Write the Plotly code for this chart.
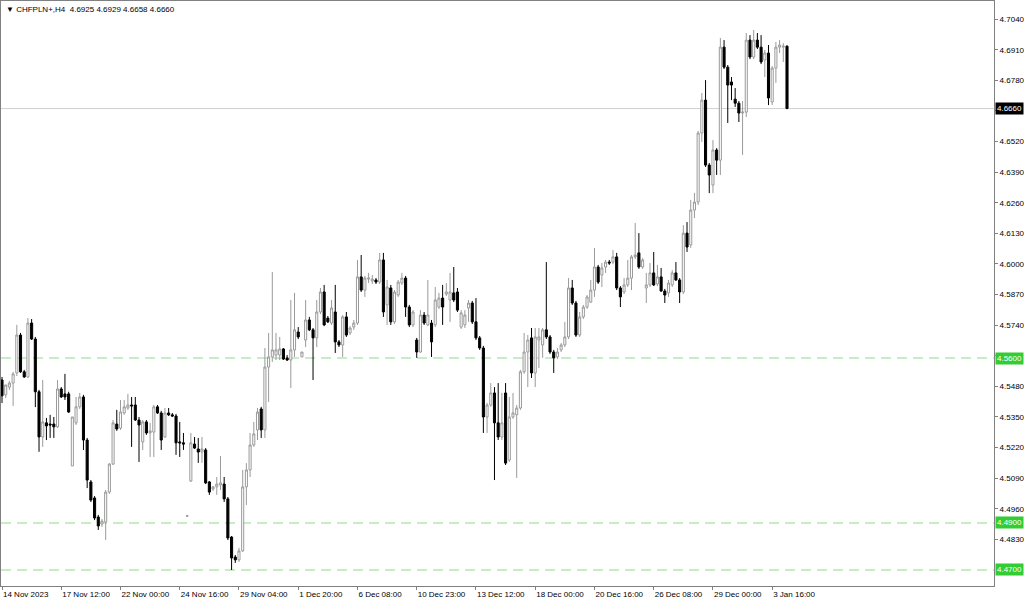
import plotly.graph_objects as go

# ---- data (CHFPLN+, H4) ----
open_ = [4.5507,4.5444,4.5477,4.5494,4.5537,4.5698,4.5542,4.5520,4.5749,4.5681,
         4.5457,4.5265,4.5325,4.5320,4.5320,4.5308,4.5469,4.5448,4.5448,4.5142,
         4.5325,4.5393,4.5435,4.5252,4.5074,4.5006,4.4925,4.4895,4.4904,4.5031,
         4.5150,4.5320,4.5303,4.5367,4.5388,4.5401,4.5401,4.5337,4.5244,4.5329,
         4.5282,4.5286,4.5393,4.5367,4.5265,4.5367,4.5359,4.5354,4.5244,4.5240,
         4.4929,4.5078,4.5235,4.5214,4.5201,4.5210,4.5074,4.5044,4.5053,4.5061,
         4.5065,4.5002,4.4840,4.4755,4.4743,4.4781,4.5053,4.5125,4.5231,4.5295,
         4.5384,4.5295,4.5562,4.5605,4.5613,4.5613,4.5639,4.5601,4.5592,4.5635,
         4.5711,4.5605,4.5677,4.5762,4.5720,4.5686,4.5796,4.5881,4.5770,4.5749,
         4.5796,4.5669,4.5656,4.5775,4.5707,4.5732,4.5749,4.5945,4.5889,4.5936,
         4.5928,4.5932,4.5923,4.6017,4.5826,4.5898,4.5754,4.5868,4.5919,4.5940,
         4.5817,4.5741,4.5677,4.5626,4.5783,4.5741,4.5749,4.5741,4.5817,4.5855,
         4.5872,4.5847,4.5877,4.5881,4.5732,4.5741,4.5813,4.5834,4.5754,4.5686,
         4.5643,4.5350,4.5401,4.5452,4.5325,4.5265,4.5452,4.5167,4.5350,4.5359,
         4.5388,4.5542,4.5626,4.5686,4.5537,4.5677,4.5656,4.5720,4.5690,4.5626,
         4.5605,4.5635,4.5656,4.5690,4.5898,4.5834,4.5698,4.5775,4.5817,4.5838,
         4.5889,4.5987,4.5953,4.5987,4.6008,4.6008,4.6030,4.5898,4.5881,4.5911,
         4.5940,4.6030,4.6047,4.5987,4.5898,4.5911,4.5962,4.5915,4.5945,4.5885,
         4.5877,4.5911,4.5962,4.5932,4.5881,4.6131,4.6081,4.6229,4.6263,4.6556,
         4.6696,4.6420,4.6335,4.6484,4.6441,4.6921,4.6836,4.6773,4.6700,4.6683,
         4.6641,4.6645,4.6951,4.6879,4.6951,4.6921,4.6866,4.6896,4.6688,4.6832,
         4.6921,4.6921,4.6925]
high = [4.5520,4.5486,4.5503,4.5542,4.5741,4.5707,4.5550,4.5770,4.5766,4.5690,
        4.5465,4.5507,4.5346,4.5359,4.5350,4.5507,4.5477,4.5533,4.5457,4.5350,
        4.5435,4.5452,4.5444,4.5261,4.5082,4.5014,4.4934,4.4917,4.5040,4.5154,
        4.5337,4.5380,4.5422,4.5422,4.5448,4.5435,4.5435,4.5350,4.5337,4.5337,
        4.5325,4.5401,4.5401,4.5376,4.5388,4.5388,4.5367,4.5363,4.5329,4.5282,
        4.4934,4.5282,4.5265,4.5261,4.5265,4.5218,4.5078,4.5057,4.5095,4.5184,
        4.5095,4.5010,4.4844,4.4764,4.4794,4.5125,4.5154,4.5282,4.5329,4.5388,
        4.5393,4.5643,4.5707,4.5966,4.5707,4.5690,4.5643,4.5613,4.5847,4.5877,
        4.5732,4.5626,4.5847,4.5775,4.5728,4.5847,4.5898,4.5911,4.5779,4.5847,
        4.5911,4.5677,4.5783,4.5796,4.5736,4.5762,4.6017,4.6038,4.5949,4.5962,
        4.5953,4.5940,4.6047,4.6047,4.5932,4.5911,4.5889,4.5932,4.5962,4.5949,
        4.5826,4.5804,4.5686,4.5804,4.5796,4.5932,4.5762,4.5902,4.5877,4.5911,
        4.5919,4.5962,4.5987,4.5898,4.5804,4.5804,4.5847,4.5843,4.5855,4.5694,
        4.5652,4.5410,4.5494,4.5477,4.5494,4.5452,4.5494,4.5435,4.5452,4.5401,
        4.5550,4.5707,4.5698,4.5728,4.5728,4.5728,4.5728,4.6008,4.5698,4.5635,
        4.5643,4.5664,4.5754,4.5940,4.5932,4.5843,4.5796,4.5826,4.5868,4.5932,
        4.6068,4.5996,4.6004,4.6017,4.6017,4.6059,4.6047,4.5906,4.5940,4.6017,
        4.6038,4.6174,4.6131,4.6025,4.5962,4.6004,4.6051,4.5996,4.5983,4.5894,
        4.5932,4.5974,4.6008,4.5940,4.6165,4.6178,4.6272,4.6302,4.6565,4.6726,
        4.6781,4.6429,4.6526,4.6492,4.6960,4.6951,4.6845,4.6794,4.6747,4.6692,
        4.6692,4.6981,4.6972,4.6994,4.6981,4.6972,4.6909,4.6930,4.6841,4.6943,
        4.6951,4.6938,4.6929]
low = [4.5409,4.5431,4.5465,4.5397,4.5524,4.5537,4.5516,4.5516,4.5677,4.5392,
       4.5202,4.5223,4.5252,4.5261,4.5261,4.5303,4.5431,4.5422,4.5367,4.5142,
       4.5316,4.5384,4.5210,4.5048,4.4989,4.4912,4.4870,4.4883,4.4827,4.5023,
       4.5146,4.5291,4.5295,4.5359,4.5380,4.5223,4.5333,4.5159,4.5210,4.5274,
       4.5180,4.5180,4.5363,4.5210,4.5261,4.5354,4.5350,4.5189,4.5180,4.5210,
       4.4925,4.5074,4.5214,4.5155,4.5155,4.5065,4.5019,4.5036,4.5019,4.5040,
       4.4989,4.4827,4.4700,4.4730,4.4734,4.4777,4.4976,4.5095,4.5223,4.5252,
       4.5261,4.5261,4.5414,4.5584,4.5592,4.5592,4.5592,4.5588,4.5473,4.5605,
       4.5681,4.5605,4.5647,4.5715,4.5507,4.5647,4.5787,4.5736,4.5749,4.5741,
       4.5622,4.5647,4.5605,4.5690,4.5698,4.5720,4.5741,4.5881,4.5860,4.5919,
       4.5915,4.5915,4.5915,4.5775,4.5741,4.5741,4.5745,4.5860,4.5911,4.5775,
       4.5732,4.5732,4.5601,4.5622,4.5741,4.5736,4.5605,4.5732,4.5809,4.5741,
       4.5864,4.5754,4.5838,4.5796,4.5724,4.5728,4.5754,4.5745,4.5677,4.5635,
       4.5282,4.5282,4.5393,4.5082,4.5252,4.5252,4.5146,4.5159,4.5342,4.5091,
       4.5380,4.5533,4.5477,4.5516,4.5477,4.5558,4.5601,4.5681,4.5618,4.5537,
       4.5596,4.5626,4.5647,4.5681,4.5826,4.5690,4.5690,4.5766,4.5809,4.5834,
       4.5860,4.5915,4.5902,4.5962,4.5996,4.5999,4.5889,4.5817,4.5872,4.5902,
       4.5889,4.6021,4.5979,4.5979,4.5834,4.5902,4.5906,4.5906,4.5881,4.5834,
       4.5860,4.5902,4.5928,4.5834,4.5872,4.6051,4.6068,4.6195,4.6250,4.6518,
       4.6412,4.6301,4.6301,4.6378,4.6378,4.6828,4.6599,4.6696,4.6667,4.6603,
       4.6463,4.6624,4.6870,4.6870,4.6913,4.6849,4.6794,4.6675,4.6675,4.6769,
       4.6896,4.6858,4.6658]
close = [4.5440,4.5486,4.5494,4.5533,4.5698,4.5542,4.5520,4.5749,4.5681,4.5457,
         4.5265,4.5329,4.5312,4.5316,4.5308,4.5469,4.5435,4.5435,4.5371,4.5350,
         4.5393,4.5435,4.5252,4.5082,4.4997,4.4921,4.4887,4.4908,4.5031,4.5150,
         4.5325,4.5299,4.5371,4.5393,4.5401,4.5397,4.5337,4.5316,4.5329,4.5282,
         4.5291,4.5393,4.5367,4.5252,4.5367,4.5359,4.5354,4.5240,4.5240,4.5235,
         4.4930,4.5240,4.5218,4.5201,4.5214,4.5070,4.5031,4.5053,4.5065,4.5070,
         4.5002,4.4836,4.4751,4.4743,4.4781,4.5053,4.5125,4.5231,4.5278,4.5371,
         4.5295,4.5562,4.5605,4.5635,4.5635,4.5639,4.5596,4.5592,4.5635,4.5720,
         4.5690,4.5626,4.5762,4.5720,4.5686,4.5796,4.5881,4.5741,4.5754,4.5813,
         4.5669,4.5656,4.5775,4.5698,4.5728,4.5749,4.5945,4.5889,4.5940,4.5940,
         4.5936,4.5923,4.6017,4.5796,4.5902,4.5754,4.5881,4.5923,4.5940,4.5817,
         4.5741,4.5796,4.5626,4.5783,4.5749,4.5783,4.5669,4.5847,4.5855,4.5817,
         4.5881,4.5881,4.5847,4.5804,4.5792,4.5783,4.5834,4.5754,4.5686,4.5643,
         4.5350,4.5401,4.5452,4.5325,4.5265,4.5325,4.5154,4.5350,4.5367,4.5388,
         4.5542,4.5626,4.5677,4.5537,4.5690,4.5690,4.5720,4.5690,4.5626,4.5601,
         4.5626,4.5656,4.5690,4.5898,4.5834,4.5698,4.5775,4.5817,4.5860,4.5889,
         4.5987,4.5923,4.5983,4.6008,4.6004,4.6030,4.5898,4.5860,4.5911,4.5940,
         4.6030,4.6038,4.5987,4.6017,4.5911,4.5962,4.5911,4.5945,4.5885,4.5868,
         4.5919,4.5962,4.5932,4.5881,4.6131,4.6072,4.6229,4.6263,4.6556,4.6696,
         4.6420,4.6378,4.6484,4.6441,4.6921,4.6836,4.6760,4.6760,4.6683,4.6641,
         4.6645,4.6951,4.6879,4.6951,4.6921,4.6858,4.6896,4.6705,4.6832,4.6921,
         4.6930,4.6925,4.6660]

time_labels = ["14 Nov 2023", "17 Nov 12:00", "22 Nov 00:00", "24 Nov 16:00",
               "29 Nov 04:00", "1 Dec 20:00", "6 Dec 08:00", "10 Dec 23:00",
               "13 Dec 12:00", "18 Dec 00:00", "20 Dec 16:00", "26 Dec 08:00",
               "29 Dec 00:00", "3 Jan 16:00"]
label_step = 16
price_ticks = [4.7040, 4.6910, 4.6780, 4.6650, 4.6520, 4.6390, 4.6260, 4.6130,
               4.6000, 4.5870, 4.5740, 4.5610, 4.5480, 4.5350, 4.5220, 4.5090,
               4.4960, 4.4830]
levels = [4.5600, 4.4900, 4.4700]
last_price = 4.6660
title_text = "▼ CHFPLN+,H4  4.6925 4.6929 4.6658 4.6660"

n = len(close)
idx = list(range(n))

FONT = "Liberation Sans"

# tick labels hidden behind the price/level boxes are left blank (tick mark kept)
def tick_label(t):
    covered = [last_price] + levels
    if any(abs(t - c) < 0.0015 for c in covered):
        return ""
    return f"{t:.4f}"

fig = go.Figure()
fig.add_trace(go.Candlestick(
    x=idx, open=open_, high=high, low=low, close=close,
    increasing=dict(line=dict(color="#9a9a9a", width=1), fillcolor="#ffffff"),
    decreasing=dict(line=dict(color="#000000", width=1), fillcolor="#000000"),
    whiskerwidth=0, showlegend=False, hoverinfo="skip",
))

shapes = []
for lv in levels:
    shapes.append(dict(type="line", xref="paper", x0=0, x1=1, yref="y", y0=lv, y1=lv,
                       line=dict(color="#b4e8b4", width=1.5, dash="10px,6px"), layer="below"))
shapes.append(dict(type="line", xref="paper", x0=0, x1=1, yref="y", y0=last_price, y1=last_price,
                   line=dict(color="#d0d0d0", width=1), layer="below"))

annotations = []
for lv in levels:
    annotations.append(dict(x=1, xref="paper", xanchor="left", xshift=1, y=lv, yref="y",
                            text=f"{lv:.4f}", showarrow=False, bgcolor="#33cc33",
                            font=dict(color="white", size=8, family=FONT), borderpad=1))
annotations.append(dict(x=1, xref="paper", xanchor="left", xshift=1, y=last_price, yref="y",
                        text=f"{last_price:.4f}", showarrow=False, bgcolor="#000000",
                        font=dict(color="white", size=8, family=FONT), borderpad=1))
annotations.append(dict(x=0, xref="paper", xanchor="left", xshift=3, y=1, yref="paper",
                        yanchor="top", yshift=-2, text=title_text, showarrow=False,
                        font=dict(color="#000000", size=8, family=FONT)))

fig.update_layout(
    width=1024, height=599,
    margin=dict(l=1, r=30, t=1, b=13, autoexpand=False),
    paper_bgcolor="white", plot_bgcolor="white",
    boxgap=0.2,
    shapes=shapes, annotations=annotations,
    font=dict(family=FONT, size=8, color="#000000"),
    xaxis=dict(
        range=[-0.27, 267.9], rangeslider=dict(visible=False),
        tickmode="array", tickvals=[i * label_step for i in range(len(time_labels))],
        ticktext=time_labels, ticks="outside", ticklen=3, tickcolor="#808080",
        ticklabelposition="outside right", showgrid=False, zeroline=False,
        showline=True, linecolor="#808080", linewidth=1, mirror=True,
        tickfont=dict(size=8, family=FONT, color="#000000"), fixedrange=True,
    ),
    yaxis=dict(
        range=[4.4632, 4.7117], side="right",
        tickmode="array", tickvals=price_ticks, ticktext=[tick_label(t) for t in price_ticks],
        ticks="outside", ticklen=3, tickcolor="#808080", showgrid=False, zeroline=False,
        showline=True, linecolor="#808080", linewidth=1, mirror=True,
        tickfont=dict(size=8, family=FONT, color="#000000"), fixedrange=True,
    ),
)

fig.write_html("out.html", config={"displayModeBar": False},
               post_script="document.body.style.margin='0';document.body.style.padding='0';")
